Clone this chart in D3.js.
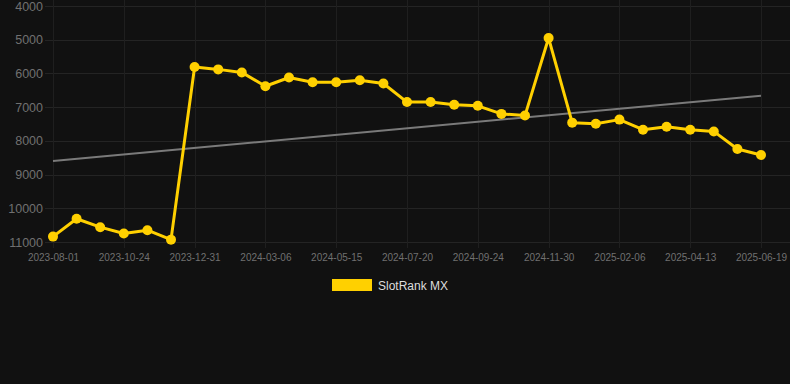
<!DOCTYPE html>
<html>
<head>
<meta charset="utf-8">
<script src="https://cdn.jsdelivr.net/npm/d3@7"></script>
<style>
  html, body { margin: 0; padding: 0; background: #111111; }
  svg { display: block; }
</style>
</head>
<body>
<div id="chart"></div>
<script>
// ---- data ----
const dates = [
  "2023-08-01","2023-08-29","2023-09-26","2023-10-24","2023-11-16","2023-12-08",
  "2023-12-31","2024-01-22","2024-02-13","2024-03-06","2024-03-29","2024-04-22",
  "2024-05-15","2024-06-06","2024-06-28","2024-07-20","2024-08-11","2024-09-02",
  "2024-09-24","2024-10-16","2024-11-08","2024-11-30","2024-12-23","2025-01-14",
  "2025-02-06","2025-02-27","2025-03-21","2025-04-13","2025-05-05","2025-05-27",
  "2025-06-19"
];
const rankValues = [
  10840, 10310, 10560, 10750, 10650, 10930,
  5810, 5880, 5970, 6380, 6120, 6260,
  6260, 6200, 6300, 6850, 6850, 6930,
  6960, 7200, 7250, 4950, 7460, 7490,
  7370, 7670, 7580, 7670, 7720, 8240,
  8420
];
const trendValues = [8600, 6660];
const xTickLabels = [
  "2023-08-01","2023-10-24","2023-12-31","2024-03-06","2024-05-15","2024-07-20",
  "2024-09-24","2024-11-30","2025-02-06","2025-04-13","2025-06-19"
];
const yTicks = [4000, 5000, 6000, 7000, 8000, 9000, 10000, 11000];
const seriesName = "SlotRank MX";

// ---- layout ----
const W = 790, H = 384;
const mLeft = 53, mRight = 761, mTop = 6, mBottom = 242;
const gold = "#FFD000";

const svg = d3.select("#chart").append("svg")
  .attr("width", W).attr("height", H)
  .style("background", "#111111");

const x = d3.scalePoint().domain(dates).range([mLeft, mRight]);
const y = d3.scaleLinear().domain([4000, 11000]).range([mTop, mBottom]);

// horizontal grid
svg.append("g").selectAll("line").data(yTicks).join("line")
  .attr("x1", 45).attr("x2", W)
  .attr("y1", d => Math.round(y(d)) + 0.5).attr("y2", d => Math.round(y(d)) + 0.5)
  .attr("stroke", "#242424").attr("stroke-width", 1);

// vertical grid
svg.append("g").selectAll("line").data(xTickLabels).join("line")
  .attr("x1", d => Math.round(x(d)) + 0.5).attr("x2", d => Math.round(x(d)) + 0.5)
  .attr("y1", 0).attr("y2", mBottom + 6)
  .attr("stroke", "#1f1f1f").attr("stroke-width", 1);

// y axis labels
const yAxis = d3.axisLeft(y).tickValues(yTicks).tickSize(0).tickPadding(0)
  .tickFormat(d3.format("d"));
const gy = svg.append("g").attr("transform", `translate(43,0)`).call(yAxis);
gy.select(".domain").remove();
gy.selectAll("text")
  .attr("fill", "#707070")
  .style("font-family", "Liberation Sans, Arial, sans-serif")
  .style("font-size", "12.5px");

// x axis labels
const xAxis = d3.axisBottom(x).tickValues(xTickLabels).tickSize(0).tickPadding(0);
const gx = svg.append("g").attr("transform", `translate(0,${mBottom + 12})`).call(xAxis);
gx.select(".domain").remove();
gx.selectAll("text")
  .attr("fill", "#707070")
  .style("font-family", "Liberation Sans, Arial, sans-serif")
  .style("font-size", "10px");

// trend line
svg.append("line")
  .attr("x1", x(dates[0])).attr("x2", x(dates[dates.length - 1]))
  .attr("y1", y(trendValues[0])).attr("y2", y(trendValues[1]))
  .attr("stroke", "#7a7a7a").attr("stroke-width", 2);

// series line
const line = d3.line().x((d, i) => x(dates[i])).y(d => y(d));
svg.append("path").datum(rankValues)
  .attr("d", line)
  .attr("fill", "none")
  .attr("stroke", gold)
  .attr("stroke-width", 3)
  .attr("stroke-linejoin", "round");

svg.append("g").selectAll("circle").data(rankValues).join("circle")
  .attr("cx", (d, i) => x(dates[i]))
  .attr("cy", d => y(d))
  .attr("r", 5)
  .attr("fill", gold);

// legend
const lg = svg.append("g");
lg.append("rect").attr("x", 332).attr("y", 279).attr("width", 40).attr("height", 12)
  .attr("fill", gold);
lg.append("text").attr("x", 378).attr("y", 289.5)
  .text(seriesName)
  .attr("fill", "#dddddd")
  .style("font-family", "Liberation Sans, Arial, sans-serif")
  .style("font-size", "12px");
</script>
</body>
</html>
